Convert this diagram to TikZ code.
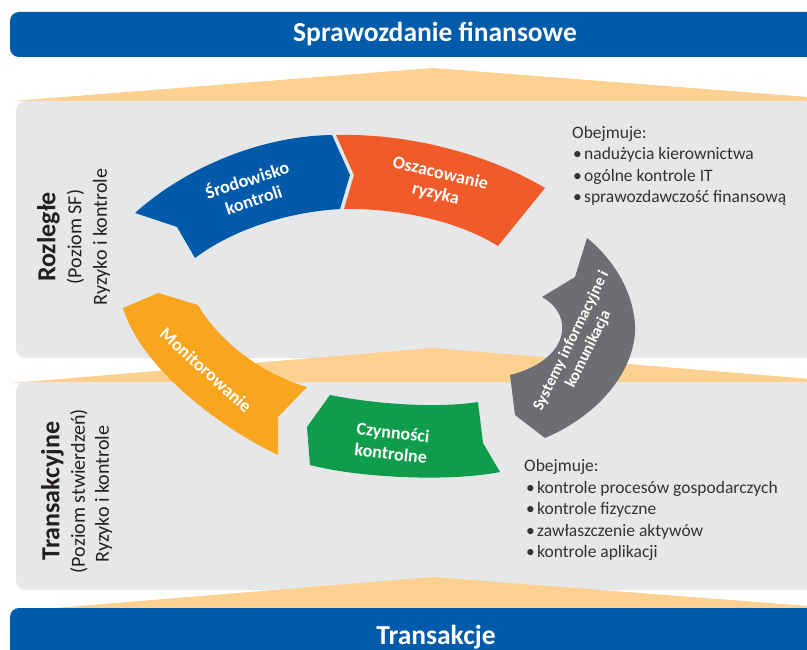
\documentclass[tikz,border=0pt]{standalone}
\usepackage{fontspec}
\setmainfont{Carlito}
\definecolor{barblue}{HTML}{005BAA}
\definecolor{paleorange}{HTML}{FFD190}
\definecolor{panelgray}{HTML}{E6E7E8}
\definecolor{envblue}{HTML}{005AA9}
\definecolor{riskorange}{HTML}{F15A29}
\definecolor{infogray}{HTML}{6D6E71}
\definecolor{ctrlgreen}{HTML}{109D4B}
\definecolor{monorange}{HTML}{F8A51F}
\definecolor{sidetextc}{HTML}{231F20}
\definecolor{listtext}{HTML}{333333}
\newcommand{\lbul}{\makebox[11pt][l]{\textbullet}}
\tikzset{
  bartext/.style={text=white, font=\bfseries\fontsize{27.5}{30}\selectfont, inner sep=0pt, anchor=base},
  ringtext/.style={text=white, font=\bfseries\fontsize{18}{21}\selectfont, align=center, inner sep=0pt},
  sidebold/.style={text=sidetextc, font=\bfseries\fontsize{26}{28}\selectfont, rotate=90, inner sep=0pt},
  sideplain/.style={text=sidetextc, font=\fontsize{20}{24}\selectfont, rotate=90, inner sep=0pt},
  listline/.style={text=listtext, font=\fontsize{17.5}{21}\selectfont, anchor=base west, inner sep=0pt},
  panel/.style={fill=panelgray, rounded corners=10pt},
  bar/.style={fill=barblue, rounded corners=9pt},
  pediment/.style={fill=paleorange},
}
\begin{document}
\begin{tikzpicture}[x=1pt,y=-1pt]
\clip (0,0) rectangle (807,650);
\fill[white] (0,0) rectangle (807,650);
% top bar
\fill[bar] (10,12) rectangle (840,57);
\node[bartext] (topbar) at (435,42) {Sprawozdanie finansowe};
% top pediment and panel
\fill[pediment] (12,101) -- (433,68) -- (860,101) -- cycle;
\fill[panel] (16,101) rectangle (850,358);
% middle pediment and panel
\fill[pediment] (12,383) -- (433,348) -- (860,383) -- cycle;
\fill[panel] (16,382) rectangle (850,590);
% bottom pediment and bar
\fill[pediment] (30,610) -- (433,577) -- (860,610) -- cycle;
\fill[bar] (10,608) rectangle (840,690);
\node[bartext] (bottombar) at (436,644) {Transakcje};

% ring segments
\fill[envblue] (135,213) -- (177,227) -- (195,258)
  .. controls (235,228) and (290,212) .. (340,209) -- (350,175) -- (332,135)
  .. controls (260,136) and (185,168) .. (135,213) -- cycle;
\fill[riskorange] (336,135) -- (354,175) -- (344,209)
  .. controls (400,208) and (460,222) .. (498,246) -- (545,188)
  .. controls (490,155) and (410,133) .. (336,135) -- cycle;
\fill[infogray] (587,238) -- (575,277) -- (542,297)
  .. controls (575,315) and (570,360) .. (510,375) -- (515,415) -- (545,438)
  .. controls (610,410) and (637,360) .. (635,325)
  .. controls (633,290) and (612,258) .. (587,238) -- cycle;
\fill[ctrlgreen] (307,427) -- (330,395)
  .. controls (380,405) and (440,408) .. (478,402) -- (483,443) -- (500,472)
  .. controls (450,482) and (360,478) .. (310,465) -- cycle;
\fill[monorange] (123,308) -- (158,293) -- (198,305)
  .. controls (215,335) and (255,372) .. (307,387) -- (278,417) -- (278,455)
  .. controls (215,425) and (140,365) .. (123,308) -- cycle;

% ring labels
\node[ringtext, rotate=18] (envlabel) at (250,189) {Środowisko\\kontroli};
\node[ringtext, rotate=-13] (risklabel) at (438,184) {Oszacowanie\\ryzyka};
\node[ringtext, font=\bfseries\fontsize{16}{19}\selectfont, rotate=64] (infolabel) at (580,345) {Systemy informacyjne i\\komunikacja};
\node[ringtext, rotate=-42] (monlabel) at (206,370) {Monitorowanie};
\node[ringtext, rotate=-6] (ctrllabel) at (392,443) {Czynności\\kontrolne};

% side labels
\node[sidebold] (widebold) at (48.5,237) {Rozległe};
\node[sideplain] (wideplain) at (75.5,237) {(Poziom SF)};
\node[sideplain] (widerisk) at (101.5,237) {Ryzyko i kontrole};
\node[sidebold] (transbold) at (52.5,491) {Transakcyjne};
\node[sideplain] (transplain) at (79,491) {(Poziom stwierdzeń)};
\node[sideplain] (transrisk) at (103.5,494) {Ryzyko i kontrole};

% list 1
\node[listline] (lista) at (572,139) {Obejmuje:};
\node[listline] (listaa) at (573,160) {\lbul nadużycia kierownictwa};
\node[listline] (listab) at (573,182) {\lbul ogólne kontrole IT};
\node[listline] (listac) at (573,203) {\lbul sprawozdawczość finansową};
% list 2
\node[listline] (listb) at (524,471) {Obejmuje:};
\node[listline] (listba) at (526,493) {\lbul kontrole procesów gospodarczych};
\node[listline] (listbb) at (526,514) {\lbul kontrole fizyczne};
\node[listline] (listbc) at (526,536) {\lbul zawłaszczenie aktywów};
\node[listline] (listbd) at (526,557) {\lbul kontrole aplikacji};
\end{tikzpicture}
\end{document}
